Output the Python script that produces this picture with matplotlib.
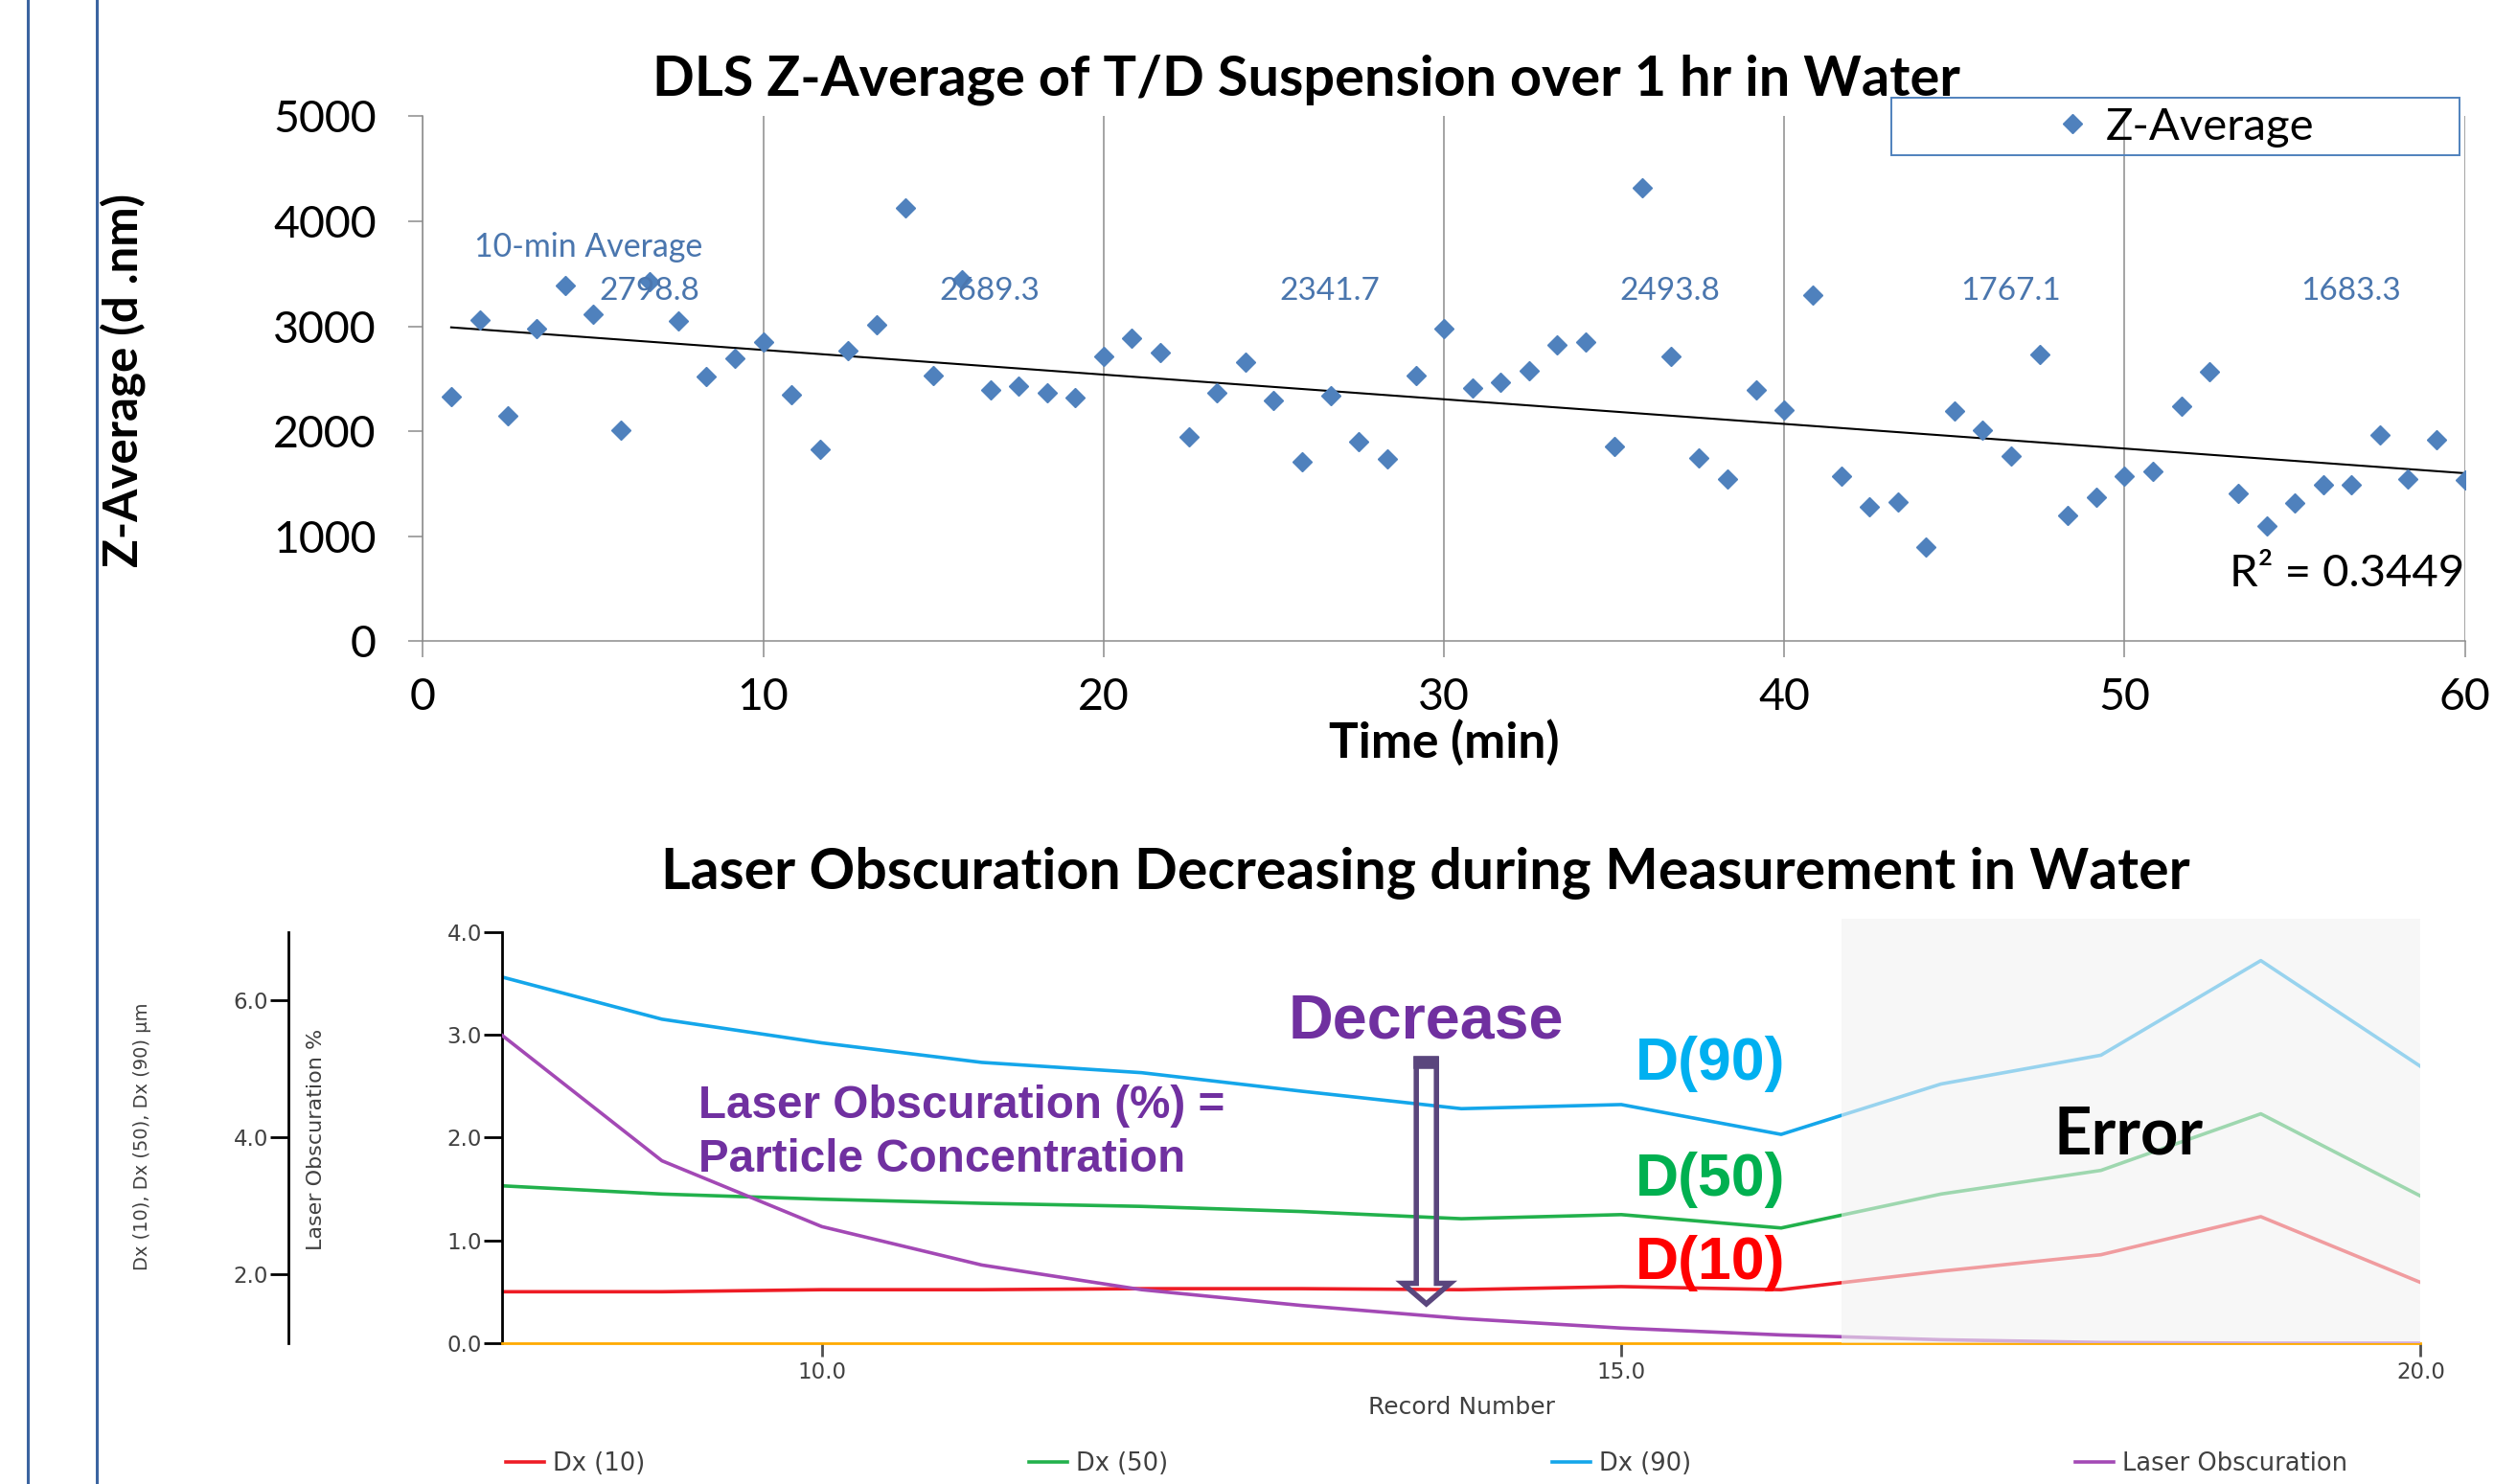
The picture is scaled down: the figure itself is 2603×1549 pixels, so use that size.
import numpy as np
import matplotlib
matplotlib.use("Agg")
import matplotlib.pyplot as plt
from matplotlib.patches import Rectangle, FancyArrow
from matplotlib.lines import Line2D
from matplotlib.ticker import FormatStrFormatter

# --- top chart: DLS Z-average, one reading every 50 s
time_min = [0.83, 1.67, 2.5, 3.33, 4.17, 5.0, 5.83, 6.67, 7.5, 8.33, 9.17, 10.0,
            10.83, 11.67, 12.5, 13.33, 14.17, 15.0, 15.83, 16.67, 17.5, 18.33, 19.17, 20.0,
            20.83, 21.67, 22.5, 23.33, 24.17, 25.0, 25.83, 26.67, 27.5, 28.33, 29.17, 30.0,
            30.83, 31.67, 32.5, 33.33, 34.17, 35.0, 35.83, 36.67, 37.5, 38.33, 39.17, 40.0,
            40.83, 41.67, 42.5, 43.33, 44.17, 45.0, 45.83, 46.67, 47.5, 48.33, 49.17, 50.0,
            50.83, 51.67, 52.5, 53.33, 54.17, 55.0, 55.83, 56.67, 57.5, 58.33, 59.17, 60.0]
z_average = [2328, 3063, 2146, 2975, 3389, 3119, 2011, 3422, 3054, 2519, 2696, 2854,
             2351, 1830, 2765, 3017, 4125, 2533, 3440, 2398, 2430, 2370, 2323, 2710,
             2886, 2747, 1951, 2370, 2663, 2291, 1713, 2337, 1899, 1741, 2528, 2980,
             2416, 2463, 2575, 2826, 2849, 1853, 4316, 2714, 1750, 1546, 2398, 2207,
             3296, 1574, 1280, 1327, 894, 2193, 2011, 1764, 2728, 1196, 1369, 1569,
             1620, 2239, 2565, 1406, 1094, 1318, 1490, 1490, 1965, 1546, 1918, 1532]
avg_10min = [2798.8, 2689.3, 2341.7, 2493.8, 1767.1, 1683.3]
r_squared = 0.3449

# --- bottom chart: laser diffraction records
record = [8, 9, 10, 11, 12, 13, 14, 15, 16, 17, 18, 19, 20]
dx10 = [0.50, 0.50, 0.52, 0.52, 0.53, 0.53, 0.52, 0.55, 0.52, 0.70, 0.86, 1.23, 0.59]
dx50 = [1.53, 1.45, 1.40, 1.36, 1.33, 1.28, 1.21, 1.25, 1.12, 1.45, 1.68, 2.23, 1.43]
dx90 = [3.56, 3.15, 2.92, 2.73, 2.63, 2.45, 2.28, 2.32, 2.03, 2.52, 2.80, 3.72, 2.69]
obscuration = [5.49, 3.66, 2.70, 2.14, 1.78, 1.55, 1.36, 1.22, 1.12, 1.05, 1.01, 1.00, 1.00]
error_from = 16.38

W, H = 2603, 1549
fig = plt.figure(figsize=(W / 100, H / 100), dpi=100)


def fx(px):
    return px / W


def fy(py):
    return 1 - py / H


CAL = "Lato"
ARIAL = "Liberation Sans"
VERD = "DejaVu Sans"
XL_BLUE = "#4F81BD"
GRAY = "#8C8C8C"

# slide border lines on the left
for xp in (29, 101.5):
    fig.add_artist(Line2D([fx(xp), fx(xp)], [0, 1], color="#3B64A0", lw=2.2))

# ================= top chart =================
ax = fig.add_axes([fx(441.4), fy(669.4), (2572.7 - 441.4) / W, (669.4 - 121.4) / H])
ax.plot(time_min, z_average, linestyle="none", marker="D", ms=10,
        color=XL_BLUE, label="Z-Average", zorder=3)

coef = np.polyfit(time_min, z_average, 1)
xt = np.array([time_min[0], time_min[-1]])
ax.plot(xt, np.polyval(coef, xt), color="black", lw=1.5, zorder=2)

ax.set_xlim(0, 60)
ax.set_ylim(0, 5000)
ax.set_xticks(range(0, 61, 10))
ax.set_yticks(range(0, 5001, 1000))
ax.grid(axis="x", color=GRAY, lw=1.1)
ax.set_axisbelow(True)
for s in ("top", "right"):
    ax.spines[s].set_visible(False)
for s in ("left", "bottom"):
    ax.spines[s].set_color(GRAY)
    ax.spines[s].set_linewidth(1.1)
ax.tick_params(axis="y", length=11, width=1.1, color=GRAY, pad=24, labelsize=33.5)
ax.tick_params(axis="x", length=12, width=1.1, color=GRAY, pad=15, labelsize=33.5)
for lab in ax.get_xticklabels() + ax.get_yticklabels():
    lab.set_fontfamily(CAL)

ax.set_ylabel("Z-Average (d .nm)", fontfamily=CAL, fontweight="bold", fontsize=35.5)
ax.yaxis.set_label_coords(-0.1358, 0.497)
ax.set_xlabel("Time (min)", fontfamily=CAL, fontweight="bold", fontsize=37, va="center")
ax.xaxis.set_label_coords(0.5, -0.193)

ax.text(4.85, 3754, "10-min Average", ha="center", va="center",
        fontfamily=CAL, fontsize=24.4, color="#4A76AE")
for i, v in enumerate(avg_10min):
    ax.text(10 * i + 6.65, 3338, f"{v:.1f}", ha="center", va="center",
            fontfamily=CAL, fontsize=24, color="#4A76AE")
ax.text(60, 640, f"R² = {r_squared:.4f}", ha="right", va="center",
        fontfamily=CAL, fontsize=34)

fig.text(fx(1363.5), fy(99.5), "DLS Z-Average of T/D Suspension over 1 hr in Water",
         ha="center", va="baseline", fontfamily=CAL, fontweight="bold", fontsize=41.5)

fig.add_artist(Rectangle((fx(1973.6), fy(162)), (2566.7 - 1973.6) / W, 60 / H,
                         transform=fig.transFigure, fill=False, ec=XL_BLUE, lw=1.4))
ax.legend(loc="center", bbox_to_anchor=(fx(2282), fy(132.7)), bbox_transform=fig.transFigure,
          frameon=False, handlelength=0.6, handletextpad=0.45, borderpad=0,
          prop={"family": CAL, "size": 34})

# ================= bottom chart =================
bx = fig.add_axes([fx(524), fy(1402), (2526.5 - 524) / W, (1402 - 972.6) / H])
l10, = bx.plot(record, dx10, color="#EE1C25", lw=2.6, label="Dx (10)")
l50, = bx.plot(record, dx50, color="#22B14C", lw=2.6, label="Dx (50)")
l90, = bx.plot(record, dx90, color="#14A6EA", lw=2.6, label="Dx (90)")
bx.set_xlim(8, 20)
bx.set_ylim(0, 4)
bx.set_xticks([10, 15, 20])
bx.set_yticks([0, 1, 2, 3, 4])
bx.xaxis.set_major_formatter(FormatStrFormatter("%.1f"))
bx.yaxis.set_major_formatter(FormatStrFormatter("%.1f"))
for s in ("top", "right"):
    bx.spines[s].set_visible(False)
bx.spines["left"].set_linewidth(2)
bx.spines["bottom"].set_color("#FFAA00")
bx.spines["bottom"].set_linewidth(2)
bx.tick_params(axis="y", length=14, width=2, pad=1, labelsize=16.5, labelcolor="#404040")
bx.tick_params(axis="x", length=10, width=2, pad=4, labelsize=16.5, color="#505050",
               labelcolor="#404040")
for lab in bx.get_xticklabels() + bx.get_yticklabels():
    lab.set_fontfamily(VERD)
bx.set_xlabel("Record Number", fontfamily=VERD, fontsize=18, color="#404040", va="center")
bx.xaxis.set_label_coords(0.5, -0.156)
bx.set_ylabel("Dx (10), Dx (50), Dx (90) µm", fontfamily=VERD, fontsize=14, color="#404040")
bx.yaxis.set_label_coords(-0.1828, 0.5016)

# second y axis (laser obscuration %) drawn left of the main one
b2 = bx.twinx()
lob, = b2.plot(record, obscuration, color="#A349B5", lw=2.6, label="Laser Obscuration")
b2.set_ylim(1, 7)
b2.set_yticks([2, 4, 6])
b2.yaxis.set_major_formatter(FormatStrFormatter("%.1f"))
b2.yaxis.tick_left()
for s in ("top", "right", "bottom"):
    b2.spines[s].set_visible(False)
b2.spines["left"].set_visible(True)
b2.spines["left"].set_position(("outward", 160.6))
b2.spines["left"].set_linewidth(2)
b2.tick_params(axis="y", length=14, width=2, pad=1, labelsize=16.5, labelcolor="#404040")
for lab in b2.get_yticklabels():
    lab.set_fontfamily(VERD)
b2.set_ylabel("Laser Obscuration %", fontfamily=VERD, fontsize=16, color="#404040")
b2.yaxis.set_label_position("left")
b2.yaxis.set_label_coords(-0.0919, 0.496)

# faded "error" zone over the last records
b2.add_patch(Rectangle((error_from, 0), 20 - error_from, 4.13, transform=bx.transData,
                       fc="#F2F2F2", ec="none", alpha=0.6, zorder=5, clip_on=False))

# hollow arrow
b2.add_patch(FancyArrow(13.781, 2.762, 0, 0.382 - 2.762, width=0.126, head_width=0.298,
                        head_length=0.2, length_includes_head=True, fill=False,
                        ec="#5A467D", lw=4, joinstyle="miter", transform=bx.transData,
                        zorder=6))
b2.add_patch(Rectangle((13.781 - 0.063, 2.69), 0.126, 0.072, transform=bx.transData,
                       fc="#5A467D", ec="#5A467D", lw=4, zorder=6))

PURPLE = "#7030A0"
bx.text(13.78, 2.964, "Decrease", ha="center", va="baseline", fontfamily=ARIAL,
        fontweight="bold", fontsize=46.5, color=PURPLE, zorder=7)
bx.text(9.229, 2.19, "Laser Obscuration (%) =", ha="left", va="baseline", fontfamily=ARIAL,
        fontweight="bold", fontsize=34.3, color=PURPLE, zorder=7)
bx.text(9.229, 1.665, "Particle Concentration", ha="left", va="baseline", fontfamily=ARIAL,
        fontweight="bold", fontsize=34.3, color=PURPLE, zorder=7)
b2.text(15.09, 2.56, "D(90)", transform=bx.transData, ha="left", va="baseline",
        fontfamily=ARIAL, fontweight="bold", fontsize=45, color="#00B0F0", zorder=7)
b2.text(15.09, 1.435, "D(50)", transform=bx.transData, ha="left", va="baseline",
        fontfamily=ARIAL, fontweight="bold", fontsize=45, color="#00B050", zorder=7)
b2.text(15.09, 0.624, "D(10)", transform=bx.transData, ha="left", va="baseline",
        fontfamily=ARIAL, fontweight="bold", fontsize=45, color="#FF0000", zorder=7)
b2.text(18.17, 1.841, "Error", transform=bx.transData, ha="center", va="baseline",
        fontfamily=CAL, fontweight="bold", fontsize=49.5, color="black", zorder=7)

fig.text(fx(1488), fy(928), "Laser Obscuration Decreasing during Measurement in Water",
         ha="center", va="baseline", fontfamily=CAL, fontweight="bold", fontsize=42.5)

b2.legend(handles=[l10, l50, l90, lob], loc="center left", ncol=4,
          bbox_to_anchor=(fx(528), fy(1527.7)), bbox_transform=fig.transFigure,
          frameon=False, borderpad=0, borderaxespad=0, handlelength=1.56,
          handletextpad=0.35, columnspacing=15.6,
          prop={"family": VERD, "size": 18.5})
for t in b2.get_legend().get_texts():
    t.set_color("#404040")

fig.savefig("out.png", dpi=100)
